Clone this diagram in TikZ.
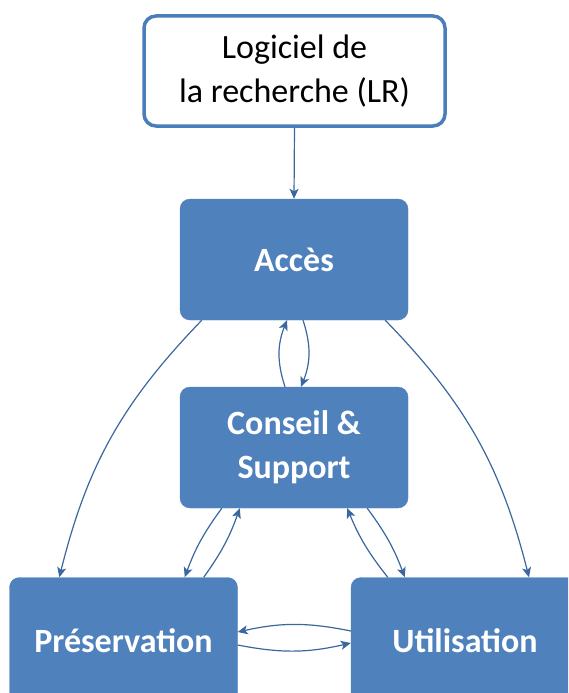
\documentclass[tikz,border=0pt]{standalone}
\usepackage{fontspec}
\setmainfont{Carlito}
\usetikzlibrary{arrows.meta}
\definecolor{colBloc}{RGB}{79,129,189}
\definecolor{colBord}{RGB}{74,126,187}
\definecolor{colFleche}{RGB}{58,103,158}
\tikzstyle{bloc}=[rectangle, rounded corners=10pt, fill=colBloc, draw=colBloc, text=white, font=\fontsize{34}{44}\selectfont\bfseries, align=center, minimum width=228pt, minimum height=121pt, inner sep=0pt]
\tikzstyle{source}=[rectangle, rounded corners=12pt, fill=white, draw=colBord, line width=3.5pt, text=black, font=\fontsize{34}{44}\selectfont, align=center, minimum width=301pt, minimum height=110pt, inner sep=0pt]
\tikzstyle{fleche}=[-{Stealth[length=10pt,width=9pt,inset=2.5pt]}, line width=1.2pt, colFleche]

\begin{document}
\begin{tikzpicture}[x=1pt, y=-1pt]
			\useasboundingbox (0,0) rectangle (568,693);
			\clip (0,0) rectangle (568,693);

			%%% Boxes
			\node[source] (lr)    at (294.5, 71.0)  {Logiciel de\\la recherche (LR)};
			\node[bloc]   (acces) at (294.0, 259.5) {Accès};
			\node[bloc]   (cons)  at (294.0, 447.5) {Conseil \&\\Support};
			\node[bloc, minimum height=127pt] (pres) at (123.5, 641.0) {Préservation};
			\node[bloc, minimum height=127pt] (util) at (465.0, 641.0) {Utilisation};

			%%% Top
			\draw[fleche] (lr.south) -- (acces.north);

			%%% Acces <-> Conseil
			\draw[fleche] ([xshift=-9pt]cons.north) to[bend left=20] ([xshift=-7pt]acces.south);
			\draw[fleche] ([xshift=9pt]acces.south) to[bend left=20] ([xshift=7pt]cons.north);

			%%% Acces to the bottom boxes
			\draw[fleche] ([xshift=22pt]acces.south west) to[bend right=15] ([xshift=50pt]pres.north west);
			\draw[fleche] ([xshift=-23pt]acces.south east) to[bend left=15] ([xshift=64pt]util.north);

			%%% Left
			\draw[fleche] ([xshift=42pt]cons.south west) to[bend right=8] ([xshift=-53pt]pres.north east);
			\draw[fleche] ([xshift=-34pt]pres.north east) to[bend right=8] ([xshift=60pt]cons.south west);

			%%% Right
			\draw[fleche] ([xshift=-41pt]cons.south east) to[bend left=8] ([xshift=54pt]util.north west);
			\draw[fleche] ([xshift=37pt]util.north west) to[bend left=8] ([xshift=-61pt]cons.south east);

			%%% Bottom
			\draw[fleche] ([yshift=10pt]util.west) to[bend right=12] ([yshift=9pt]pres.east);
			\draw[fleche] ([yshift=-4pt]pres.east) to[bend right=12] ([yshift=-2pt]util.west);
		\end{tikzpicture}
\end{document}
